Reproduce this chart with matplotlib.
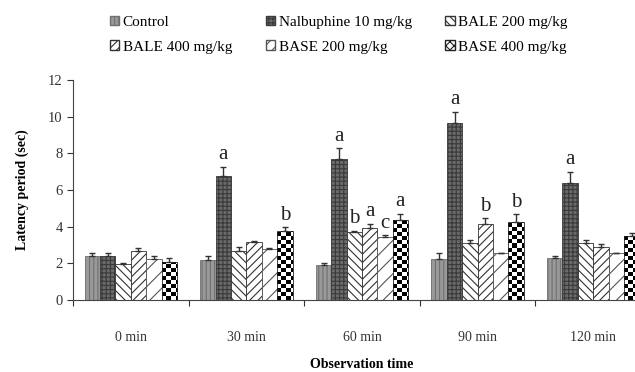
import numpy as np
import matplotlib
matplotlib.use("Agg")
import matplotlib.pyplot as plt
from matplotlib.patches import Patch

categories = ["0 min", "30 min", "60 min", "90 min", "120 min"]
series = ["Control", "Nalbuphine 10 mg/kg", "BALE 200 mg/kg",
          "BALE 400 mg/kg", "BASE 200 mg/kg", "BASE 400 mg/kg"]

control    = [2.38, 2.18, 1.91, 2.24, 2.29]
nalbuphine = [2.38, 6.78, 7.67, 9.67, 6.40]
bale200    = [1.95, 2.67, 3.73, 3.13, 3.09]
bale400    = [2.66, 3.15, 3.95, 4.15, 2.87]
base200    = [2.24, 2.80, 3.42, 2.58, 2.58]
base400    = [2.05, 3.76, 4.35, 4.27, 3.49]

control_err    = [0.20, 0.20, 0.10, 0.35, 0.12]
nalbuphine_err = [0.20, 0.50, 0.60, 0.60, 0.60]
bale200_err    = [0.05, 0.20, 0.05, 0.15, 0.20]
bale400_err    = [0.20, 0.05, 0.20, 0.30, 0.20]
base200_err    = [0.15, 0.05, 0.10, 0.00, 0.00]
base400_err    = [0.25, 0.20, 0.35, 0.40, 0.15]

letters = {
    (1, 1): "a", (1, 5): "b",
    (2, 1): "a", (2, 2): "b", (2, 3): "a", (2, 4): "c", (2, 5): "a",
    (3, 1): "a", (3, 3): "b", (3, 5): "b",
    (4, 1): "a",
}

values = [control, nalbuphine, bale200, bale400, base200, base400]
errors = [control_err, nalbuphine_err, bale200_err, bale400_err, base200_err, base400_err]

plt.rcParams['font.family'] = ['Liberation Serif', 'DejaVu Serif']
plt.rcParams['hatch.linewidth'] = 0.8

styles = [
    dict(facecolor="#999999", hatch="||||", edgecolor="#707070"),
    dict(facecolor="#6a6a6a", hatch="++++", edgecolor="#3a3a3a"),
    dict(facecolor="white", hatch="\\\\\\\\", edgecolor="#333333"),
    dict(facecolor="white", hatch="////", edgecolor="#333333"),
    dict(facecolor="white", hatch="//", edgecolor="#555555"),
    dict(facecolor="white", hatch="", edgecolor="#222222"),
]

fig = plt.figure(figsize=(6.35, 3.72), dpi=100)
ax = fig.add_axes([73/635, 1-300/372, (651-73)/635, 220/372])

x = np.arange(len(categories))
bw = 0.133
ax.set_xlim(-0.5, 4.5)
ax.set_ylim(0, 12)

bars_all = []
for i, (vals, errs, st) in enumerate(zip(values, errors, styles)):
    pos = x + (i - 2.5) * bw
    bars = ax.bar(pos, vals, width=bw, facecolor=st["facecolor"], hatch=st["hatch"],
                  edgecolor=st["edgecolor"], linewidth=0.6, zorder=2)
    ax.errorbar(pos, vals, yerr=[np.zeros(len(vals)), errs], fmt="none",
                ecolor="#333333", elinewidth=1.0, capsize=2.5, capthick=1.0, zorder=3)
    bars_all.append(bars)

# checkerboard fill for BASE 400 bars
ny, nx = 110, 250
yy, xx = np.mgrid[0:ny, 0:nx]
checker = ((yy // 2 + xx // 2) % 2).astype(float)
for b in bars_all[5]:
    im = ax.imshow(checker, cmap="gray", extent=(-0.5, 4.5, 0, 12), aspect="auto",
                   interpolation="nearest", zorder=2.5, origin="lower")
    im.set_clip_path(b)
    b.set_zorder(2.6)
    b.set_facecolor("none")

ax.set_xlim(-0.5, 4.5)
ax.set_ylim(0, 12)

for (c, s), t in letters.items():
    xp = x[c] + (s - 2.5) * bw
    yp = values[s][c] + errors[s][c] + 0.15
    ax.text(xp, yp, t, ha="center", va="bottom", fontsize=15, color="#222222")

ax.spines["top"].set_visible(False)
ax.spines["right"].set_visible(False)
ax.spines["left"].set_color("#444444")
ax.spines["bottom"].set_color("#444444")
ax.set_yticks(np.arange(0, 13, 2))
ax.tick_params(axis="y", labelsize=10.5, length=4, colors="#333333")
ax.set_xticks(np.arange(-0.5, 5, 1.0))
ax.set_xticklabels([])
ax.tick_params(axis="x", which="major", length=4, colors="#333333")
ax.set_xticks(x, minor=True)
ax.set_xticklabels(categories, minor=True, fontsize=10)
ax.tick_params(axis="x", which="minor", length=0, pad=22, labelcolor="#333333")

ax.set_ylabel("Latency period (sec)", fontsize=10, fontweight="bold", labelpad=14)
fig.text(362/635, 1-364/372, "Observation time", ha="center", va="center",
         fontsize=10, fontweight="bold")

leg_hatch = ["||||", "++++", "\\\\\\\\", "////", "///", "xxxx"]
handles = [Patch(facecolor=st["facecolor"], hatch=leg_hatch[i],
                 edgecolor=st["edgecolor"], label=series[i]) for i, st in enumerate(styles)]
order = [0, 3, 1, 4, 2, 5]
leg = fig.legend([handles[i] for i in order], [series[i] for i in order],
                 ncol=3, loc="upper left", bbox_to_anchor=(96/635, 1-2/372),
                 frameon=False, fontsize=11, handlelength=0.6, handleheight=0.6,
                 handletextpad=0.25, columnspacing=2.2, labelspacing=0.75)

fig.savefig("out.png", dpi=100)
